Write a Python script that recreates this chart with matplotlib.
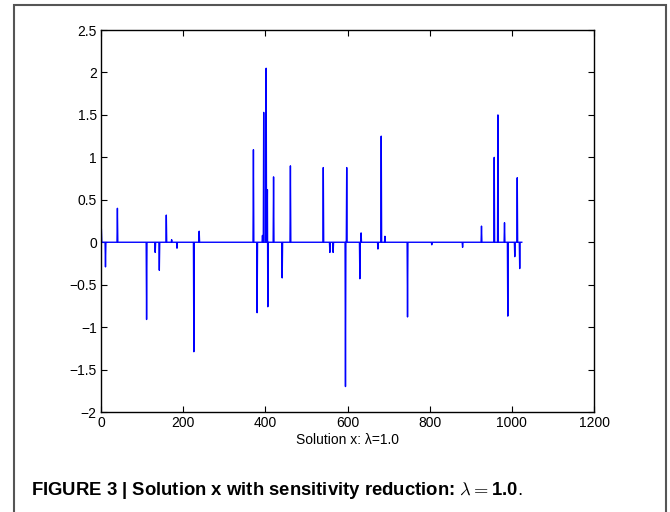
import numpy as np
import matplotlib
matplotlib.use('Agg')
import matplotlib.pyplot as plt
from matplotlib.patches import Rectangle
from matplotlib.ticker import FuncFormatter

plt.rcParams['font.family'] = ['Liberation Sans', 'DejaVu Sans']
plt.rcParams['mathtext.fontset'] = 'cm'

# solution vector: length and non-zero entries (index, value)
n_samples = 1024
spike_idx = [1, 11, 40, 111, 132, 142, 159, 172, 185, 226, 239,
             371, 380, 393, 396, 402, 405, 406, 420, 441, 461,
             541, 557, 565, 595, 598, 630, 633, 674, 682, 691,
             746, 805, 880, 926, 957, 966, 982, 990, 1007, 1013, 1019]
spike_val = [0.15, -0.29, 0.40, -0.91, -0.12, -0.33, 0.32, 0.03, -0.07, -1.29, 0.13,
             1.09, -0.83, 0.08, 1.53, 2.05, 0.62, -0.76, 0.77, -0.42, 0.90,
             0.88, -0.12, -0.12, -1.70, 0.88, -0.43, 0.11, -0.08, 1.25, 0.07,
             -0.88, -0.03, -0.06, 0.19, 1.00, 1.50, 0.23, -0.87, -0.17, 0.76, -0.31]

xticks = [0, 200, 400, 600, 800, 1000, 1200]
yticks = [-2, -1.5, -1, -0.5, 0, 0.5, 1, 1.5, 2, 2.5]

x = np.arange(1, n_samples + 1)
sol = np.zeros(n_samples)
sol[np.array(spike_idx) - 1] = spike_val

fig = plt.figure(figsize=(6.7, 5.12), dpi=100)
ax = fig.add_axes([0.1507, 0.1953, 0.736, 0.746])
ax.plot(x, sol, color='#0000ff', lw=1.0)

ax.set_xlim(0, 1200)
ax.set_ylim(-2, 2.5)
ax.set_xticks(xticks)
ax.set_yticks(yticks)
fmt = FuncFormatter(lambda v, p: ('%g' % v).replace('-', '\u2212'))
ax.xaxis.set_major_formatter(fmt)
ax.yaxis.set_major_formatter(fmt)
ax.tick_params(direction='in', top=True, right=True, length=4,
               labelsize=10, width=0.8, pad=3)
for s in ax.spines.values():
    s.set_linewidth(1.0)
ax.set_xlabel('Solution x: \u03bb=1.0', fontsize=10, labelpad=2)

cap = fig.text(0.047, 0.034, r'FIGURE 3 | Solution x with sensitivity reduction: $\lambda=$1.0',
               fontsize=13.3, fontweight='bold', ha='left', va='baseline')
fig.canvas.draw()
bb = cap.get_window_extent()
fig.text((bb.x1 - 1) / fig.bbox.width, 0.034, '.', fontsize=13.3, ha='left', va='baseline')

# frame around the whole figure panel
fig.patches.append(Rectangle((13.5 / 670, -0.02), (666 - 13.5) / 670, 1.02 - 4.5 / 512,
                             transform=fig.transFigure, fill=False,
                             edgecolor='#555555', lw=1.5, clip_on=False))

fig.savefig('out.png', dpi=100)
